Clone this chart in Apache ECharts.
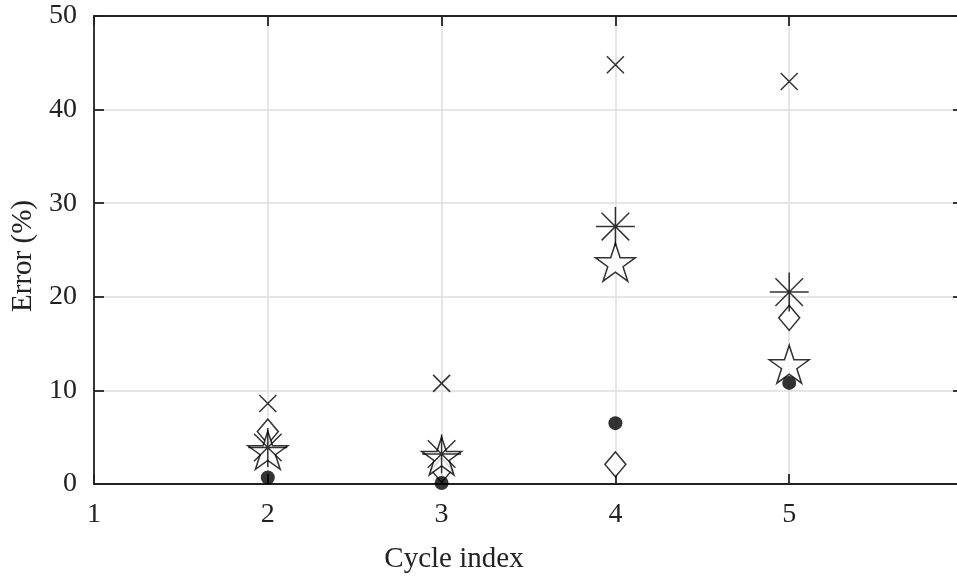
<!DOCTYPE html>
<html>
<head>
<meta charset="utf-8">
<script src="https://cdn.jsdelivr.net/npm/echarts@6/dist/echarts.min.js"></script>
<style>
  html, body { margin: 0; padding: 0; background: #fff; }
  #chart { width: 957px; height: 577px; }
</style>
</head>
<body>
<div id="chart"></div>
<script>
// cycle index on the x axis
const cycles = [2, 3, 4, 5];

// error (%) per marker type, one value per cycle
const crossErr = [8.6, 10.75, 44.8, 43.0];
const asteriskErr = [3.9, 3.2, 27.5, 20.5];
const starErr = [3.6, 3.0, 23.7, 12.8];
const diamondErr = [5.6, 1.5, 2.1, 17.75];
const dotErr = [0.7, 0.1, 6.5, 10.8];

const xTicks = [1, 2, 3, 4, 5, 6];
const yTicks = [0, 10, 20, 30, 40, 50];

const font = '"Liberation Serif", "Times New Roman", serif';
const axisColor = '#222';

const crossPath = 'path://M0 0 L100 100 M100 0 L0 100';
const asteriskPath = 'path://M50 0 L50 100 M0 50 L100 50 M14.64 14.64 L85.36 85.36 M85.36 14.64 L14.64 85.36';
const starPath = 'path://M50 0 L61.23 34.55 L97.55 34.55 L68.17 55.9 L79.39 90.45 L50 69.1 L20.61 90.45 L31.83 55.9 L2.45 34.55 L38.77 34.55 Z';

const pairs = (vals) => cycles.map((c, i) => [c, vals[i]]);

// every axis gets its own objects so nothing is shared
function frameAxis(kind, position, extra) {
  const ticks = kind === 'x' ? xTicks : yTicks;
  return Object.assign({
    type: 'value',
    position: position,
    min: ticks[0],
    max: ticks[ticks.length - 1],
    interval: ticks[1] - ticks[0],
    axisLine: { show: true, onZero: false, lineStyle: { color: axisColor, width: 1.8 } },
    axisTick: { show: true, inside: true, length: 10, lineStyle: { color: axisColor, width: 1.8 } },
    axisLabel: { show: false },
    splitLine: { show: false }
  }, extra || {});
}

const chart = echarts.init(document.getElementById('chart'));

const options = {
  animation: false,
  backgroundColor: '#fff',
  // the right edge (x = 6) sits just past the canvas, as in the source figure
  grid: { left: 94, top: 16, width: 869, height: 468, outerBoundsMode: 'none', containLabel: false },
  xAxis: [
    frameAxis('x', 'bottom', {
      name: 'Cycle index',
      nameLocation: 'middle',
      nameGap: 61,
      nameTextStyle: { fontFamily: font, fontSize: 29, color: '#222', padding: [0, 149, 0, 0] },
      axisLabel: { show: true, fontFamily: font, fontSize: 28, color: '#222', margin: 17, showMaxLabel: false },
      splitLine: { show: true, lineStyle: { color: '#dedede', width: 1.5 } }
    }),
    frameAxis('x', 'top')
  ],
  yAxis: [
    frameAxis('y', 'left', {
      name: 'Error (%)',
      nameLocation: 'middle',
      nameGap: 56,
      nameTextStyle: { fontFamily: font, fontSize: 29, color: '#222', padding: [0, 12, 0, 0] },
      axisLabel: { show: true, fontFamily: font, fontSize: 28, color: '#222', margin: 17 },
      splitLine: { show: true, lineStyle: { color: '#dedede', width: 1.5 } }
    }),
    frameAxis('y', 'right')
  ],
  series: [
    {
      name: 'diamond',
      type: 'scatter',
      symbol: 'diamond',
      symbolSize: [21, 25],
      itemStyle: { color: '#fff', borderColor: '#000', borderWidth: 1.5 },
      data: pairs(diamondErr)
    },
    {
      name: 'star',
      type: 'scatter',
      symbol: starPath,
      symbolSize: [40, 38],
      itemStyle: { color: '#fff', borderColor: '#000', borderWidth: 1.5 },
      data: pairs(starErr)
    },
    {
      name: 'asterisk',
      type: 'scatter',
      symbol: asteriskPath,
      symbolSize: [39, 39],
      itemStyle: { color: '#000', borderColor: '#000', borderWidth: 1.5 },
      data: pairs(asteriskErr)
    },
    {
      name: 'cross',
      type: 'scatter',
      symbol: crossPath,
      symbolSize: [17, 17],
      itemStyle: { color: '#000', borderColor: '#000', borderWidth: 1.5 },
      data: pairs(crossErr)
    },
    {
      name: 'dot',
      type: 'scatter',
      symbol: 'circle',
      symbolSize: 14,
      itemStyle: { color: '#000' },
      data: pairs(dotErr)
    }
  ]
};

chart.setOption(options);
</script>
</body>
</html>
